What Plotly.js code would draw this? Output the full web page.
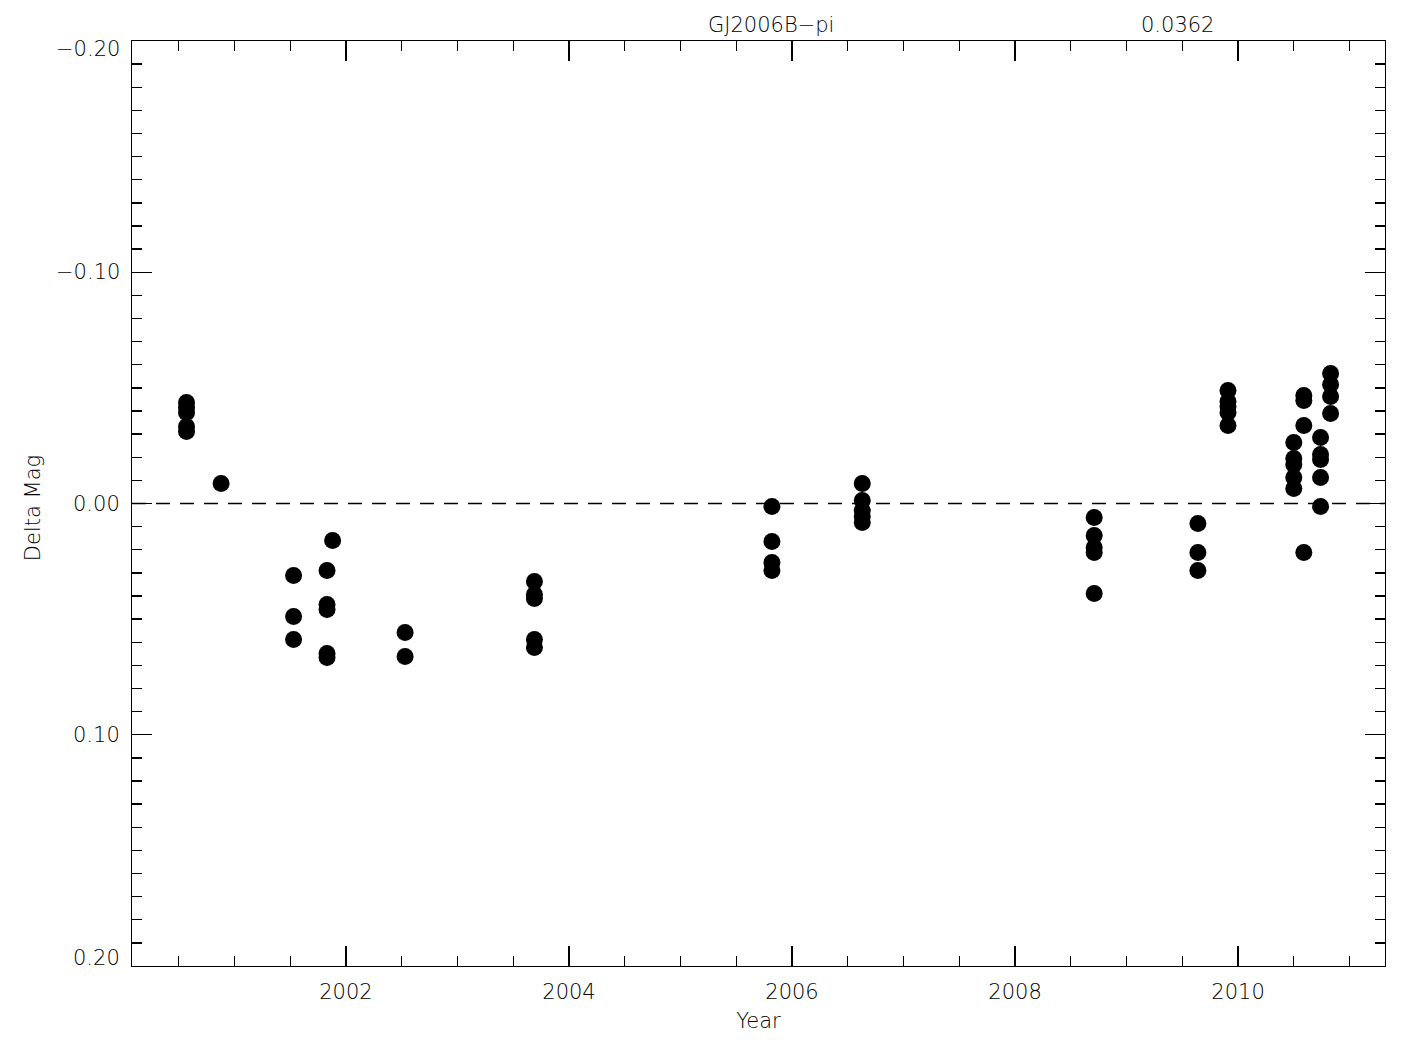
<!DOCTYPE html>
<html>
<head>
<meta charset="utf-8">
<script src="https://cdn.plot.ly/plotly-3.0.1.min.js"></script>
<style>html,body{margin:0;padding:0;background:#fff;}#chart{width:1425px;height:1050px;}</style>
</head>
<body>
<div id="chart"></div>
<script>
const years = [
  2000.57, 2000.57, 2000.57, 2000.57, 2000.57,
  2000.88,
  2001.53, 2001.53, 2001.53,
  2001.83, 2001.83, 2001.83, 2001.83, 2001.83,
  2001.88,
  2002.53, 2002.53,
  2003.69, 2003.69, 2003.69, 2003.69, 2003.69,
  2005.82, 2005.82, 2005.82, 2005.82,
  2006.63, 2006.63, 2006.63, 2006.63, 2006.63,
  2008.71, 2008.71, 2008.71, 2008.71, 2008.71,
  2009.64, 2009.64, 2009.64,
  2009.91, 2009.91, 2009.91, 2009.91, 2009.91,
  2010.50, 2010.50, 2010.50, 2010.50, 2010.50,
  2010.59, 2010.59, 2010.59, 2010.59,
  2010.74, 2010.74, 2010.74, 2010.74, 2010.74,
  2010.83, 2010.83, 2010.83, 2010.83
];
const deltaMag = [
  -0.0437, -0.0415, -0.0393, -0.0333, -0.0311,
  -0.0086,
  0.0311, 0.0489, 0.0588,
  0.0290, 0.0437, 0.0458, 0.0649, 0.0666,
  0.0160,
  0.0558, 0.0662,
  0.0337, 0.0394, 0.0411, 0.0588, 0.0623,
  0.0013, 0.0164, 0.0255, 0.0290,
  -0.0086, -0.0013, 0.0030, 0.0056, 0.0082,
  0.0061, 0.0138, 0.0190, 0.0212, 0.0389,
  0.0086, 0.0212, 0.0290,
  -0.0489, -0.0441, -0.0419, -0.0394, -0.0337,
  -0.0264, -0.0195, -0.0169, -0.0112, -0.0065,
  -0.0467, -0.0445, -0.0337, 0.0212,
  -0.0285, -0.0212, -0.0190, -0.0112, 0.0013,
  -0.0562, -0.0515, -0.0463, -0.0389
];
const xRange = [2000.081, 2011.318];
const yRange = [0.20, -0.20];
const yTickVals = [-0.20, -0.10, 0.00, 0.10, 0.20];
const yTickText = ['\u22120.20', '\u22120.10', '0.00', '0.10', '0.20'];
const titleText = 'GJ2006B\u2212pi';
const rmsText = '0.0362';
const xLabel = 'Year';
const yLabel = 'Delta Mag';

const FONT = {family: 'DejaVu Sans', size: 21, color: '#000', weight: 200};

const trace = {
  x: years, y: deltaMag, type: 'scatter', mode: 'markers',
  marker: {size: 17, color: '#000', line: {width: 0}},
  hoverinfo: 'skip', showlegend: false
};

// y tick labels as annotations so the end labels can sit inside the frame (as in the reference)
const yLabelAnn = yTickVals.map((v, i) => ({
  text: yTickText[i], xref: 'paper', yref: 'y', x: 0, y: v,
  xanchor: 'right', yanchor: 'middle', xshift: -10,
  yshift: i === 0 ? -8 : (i === yTickVals.length - 1 ? 8 : 0),
  showarrow: false, font: FONT
}));

const layout = {
  width: 1425, height: 1050,
  margin: {l: 132, r: 40, t: 41, b: 84, pad: 0},
  paper_bgcolor: '#fff', plot_bgcolor: '#fff',
  font: FONT,
  showlegend: false,
  xaxis: {
    range: xRange, showgrid: false, zeroline: false,
    showline: true, linecolor: '#000', linewidth: 1.3, mirror: 'ticks',
    ticks: 'inside', ticklen: 20, tickwidth: 1.3, tickcolor: '#000',
    tick0: 2000, dtick: 2, tickformat: 'd',
    minor: {ticks: 'inside', ticklen: 10, tickwidth: 1.3, tickcolor: '#000', dtick: 0.5, tick0: 2000, showgrid: false},
    tickfont: FONT, ticklabelstandoff: 6,
    title: {text: xLabel, font: FONT, standoff: 10}
  },
  yaxis: {
    range: yRange, showgrid: false, zeroline: false,
    showline: true, linecolor: '#000', linewidth: 1.3, mirror: 'ticks',
    ticks: 'inside', ticklen: 20, tickwidth: 1.3, tickcolor: '#000',
    tickmode: 'array', tickvals: yTickVals, showticklabels: false,
    minor: {ticks: 'inside', ticklen: 10, tickwidth: 1.3, tickcolor: '#000', dtick: 0.01, tick0: 0, showgrid: false}
  },
  shapes: [{
    type: 'line', xref: 'paper', yref: 'y', x0: 0, x1: 1, y0: 0, y1: 0,
    line: {color: '#000', width: 1.5, dash: '14px,10px'}, layer: 'below'
  }],
  annotations: [
    {text: titleText, xref: 'paper', yref: 'paper', x: 0.51, y: 1.017, xanchor: 'center', yanchor: 'middle', showarrow: false, font: FONT},
    {text: rmsText, xref: 'paper', yref: 'paper', x: 0.834, y: 1.017, xanchor: 'center', yanchor: 'middle', showarrow: false, font: FONT},
    {text: yLabel, xref: 'paper', yref: 'paper', x: 0, y: 0.495, xshift: -99, xanchor: 'center', yanchor: 'middle', textangle: -90, showarrow: false, font: FONT}
  ].concat(yLabelAnn)
};

Plotly.newPlot('chart', [trace], layout, {displayModeBar: false, staticPlot: true});
</script>
</body>
</html>
